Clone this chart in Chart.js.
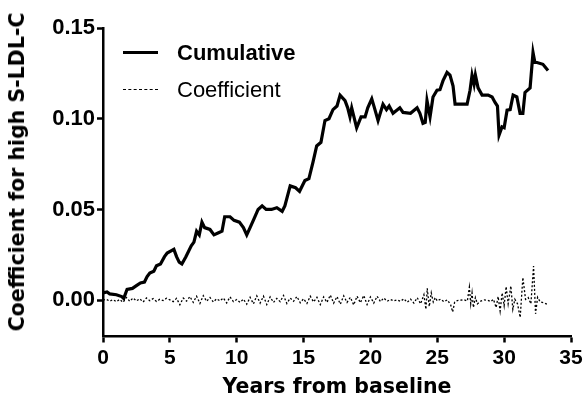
<!DOCTYPE html>
<html>
<head>
<meta charset="utf-8">
<script src="https://cdn.jsdelivr.net/npm/chart.js@4/dist/chart.umd.min.js"></script>
<style>
  body { margin: 0; background: #fff; }
  #wrap { position: relative; width: 586px; height: 411px; }
  #legend { position: absolute; left: 123px; top: 34px; font-family: "Liberation Sans", Arial, sans-serif; font-size: 22px; color: #000; }
  #legend .row { display: flex; align-items: center; height: 37px; }
  #legend .swatch { width: 35px; margin-right: 19px; }
  #legend .solid { border-top: 3px solid #000; }
  #legend .dots { border-top: 1.3px dashed #000; }
  #ytitle { position: absolute; left: 17px; top: 172px; transform: translate(-50%, -50%) rotate(-90deg); white-space: nowrap;
    font-family: "DejaVu Sans", sans-serif; font-weight: bold; font-size: 20.5px; color: #000; }
</style>
</head>
<body>
<div id="wrap">
  <canvas id="chart" width="586" height="411"></canvas>
  <div id="legend">
    <div class="row"><div class="swatch solid"></div><b>Cumulative</b></div>
    <div class="row"><div class="swatch dots"></div><span>Coefficient</span></div>
  </div>
  <div id="ytitle">Coefficient for high S-LDL-C</div>
</div>
<script>
/* ======================
   DATA
====================== */
const xTicks = [0, 5, 10, 15, 20, 25, 30, 35]
const yTicks = [0, 0.05, 0.10, 0.15]

// cumulative coefficient: [years, value]
const cumulative = [
  [0, 0.004], [0.3, 0.0045], [0.5, 0.0035], [1.0, 0.003], [1.4, 0.002], [1.55, 0.001],
  [1.7, 0.004], [1.8, 0.006], [2.2, 0.0065], [2.5, 0.008], [2.8, 0.0095], [3.1, 0.010],
  [3.3, 0.013], [3.5, 0.015], [3.8, 0.016], [4.0, 0.019], [4.3, 0.020], [4.6, 0.024],
  [4.8, 0.026], [5.3, 0.028], [5.5, 0.024], [5.7, 0.021], [5.9, 0.020], [6.2, 0.024],
  [6.6, 0.030], [6.8, 0.032], [7.0, 0.038], [7.2, 0.036], [7.4, 0.043], [7.6, 0.040],
  [8.0, 0.039], [8.3, 0.036], [8.6, 0.037], [8.9, 0.038], [9.1, 0.046], [9.5, 0.046],
  [9.8, 0.044], [10.2, 0.043], [10.5, 0.040], [10.75, 0.036], [11.0, 0.040], [11.3, 0.045],
  [11.6, 0.050], [11.9, 0.052], [12.2, 0.050], [12.6, 0.050], [13.0, 0.051], [13.4, 0.049],
  [13.6, 0.052], [14.0, 0.063], [14.4, 0.062], [14.7, 0.060], [15.1, 0.066], [15.4, 0.067],
  [15.7, 0.076], [15.98, 0.085], [16.3, 0.087], [16.6, 0.099], [16.9, 0.100], [17.2, 0.105],
  [17.5, 0.107], [17.73, 0.113], [18.1, 0.110], [18.3, 0.106], [18.47, 0.101], [18.6, 0.106],
  [18.97, 0.095], [19.3, 0.101], [19.6, 0.101], [19.8, 0.106], [20.1, 0.111], [20.3, 0.106],
  [20.57, 0.099], [20.94, 0.108], [21.2, 0.105], [21.4, 0.107], [21.69, 0.103], [22.2, 0.106],
  [22.44, 0.1035], [23.0, 0.103], [23.49, 0.106], [23.7, 0.103], [23.93, 0.0975], [24.1, 0.098],
  [24.23, 0.110], [24.46, 0.101], [24.68, 0.112], [24.98, 0.1157], [25.2, 0.116], [25.43, 0.121],
  [25.73, 0.1255], [25.95, 0.124], [26.18, 0.118], [26.33, 0.108], [26.8, 0.108], [27.23, 0.108],
  [27.45, 0.1157], [27.6, 0.124], [27.75, 0.119], [27.85, 0.124], [28.05, 0.117], [28.35, 0.113],
  [28.8, 0.113], [29.1, 0.112], [29.32, 0.109], [29.5, 0.107], [29.62, 0.091], [29.84, 0.0955],
  [30.0, 0.095], [30.22, 0.1047], [30.45, 0.105], [30.67, 0.113], [30.95, 0.112], [31.19, 0.103],
  [31.4, 0.103], [31.56, 0.1145], [31.94, 0.117], [32.16, 0.1365], [32.3, 0.131], [32.46, 0.131],
  [32.9, 0.130], [33.28, 0.1266]
]

// yearly coefficient: [years, value]
const coefficient = [
  [0, 0], [0.25, 0.0005], [0.5, -0.0005], [0.75, 0.0003], [1, -0.0008], [1.25, 0.0004],
  [1.5, -0.0012], [1.75, 0.0015], [2, -0.0006], [2.25, 0.0012], [2.5, -0.0004], [2.75, 0.0008],
  [3, -0.001], [3.25, 0.0012], [3.5, -0.0003], [3.75, 0.0009], [4, -0.0007], [4.25, 0.0005],
  [4.5, -0.0002], [4.75, 0.0011], [5, 0.0002], [5.25, -0.0008], [5.5, 0.001], [5.75, -0.0025],
  [6, 0.0012], [6.25, -0.0005], [6.5, 0.002], [6.75, -0.0012], [7, 0.0022], [7.25, -0.0018],
  [7.5, 0.0025], [7.75, -0.0006], [8, 0.0015], [8.25, -0.001], [8.5, 0.0008], [8.75, -0.0004],
  [9, 0.0012], [9.25, -0.0015], [9.5, 0.0018], [9.75, -0.0008], [10, 0.0004], [10.25, -0.0012],
  [10.5, 0.0006], [10.75, -0.0022], [11, 0.0016], [11.25, -0.002], [11.5, 0.0024], [11.75, -0.0016],
  [12, 0.0022], [12.25, -0.0024], [12.5, 0.0018], [12.75, -0.0012], [13, 0.001], [13.25, -0.0008],
  [13.5, 0.0026], [13.75, -0.0018], [14, 0.0012], [14.25, -0.0006], [14.5, 0.002], [14.75, -0.0014],
  [15, 0.0008], [15.25, -0.0018], [15.5, 0.0022], [15.75, -0.001], [16, 0.0016], [16.25, -0.0024],
  [16.5, 0.0018], [16.75, -0.0012], [17, 0.0028], [17.25, -0.0016], [17.5, 0.002], [17.75, -0.0022],
  [18, 0.0024], [18.25, -0.0012], [18.5, 0.0016], [18.75, -0.0026], [19, 0.0022], [19.25, -0.0014],
  [19.5, 0.0026], [19.75, -0.0024], [20, 0.0018], [20.25, -0.0016], [20.5, 0.0022], [20.75, -0.0008],
  [21, 0.0012], [21.25, -0.0006], [21.5, 0.0004], [21.75, -0.0004], [22, 0.0002], [22.25, -0.0006],
  [22.5, 0.0008], [22.75, -0.0012], [23, 0.0006], [23.25, -0.0016], [23.5, 0.0014], [23.75, -0.002],
  [24, 0.003], [24.15, -0.005], [24.25, 0.0065], [24.4, -0.0035], [24.55, 0.004], [24.7, -0.001],
  [24.85, 0.0015], [25, -0.0004], [25.25, 0.0006], [25.5, -0.0008], [25.75, 0.0002], [26, -0.0025],
  [26.15, -0.0065], [26.3, -0.001], [26.5, -0.0002], [26.75, 0], [27, 0.0002], [27.25, -0.0004],
  [27.4, 0.0072], [27.5, -0.002], [27.6, 0.004], [27.7, -0.004], [27.85, 0.0015], [28, -0.002],
  [28.25, -0.0005], [28.5, 0.0002], [28.75, 0], [29, -0.0008], [29.2, 0.0005], [29.4, -0.004],
  [29.55, 0.002], [29.7, -0.006], [29.85, 0.004], [30, -0.003], [30.15, 0.0075], [30.3, -0.002],
  [30.5, 0.0078], [30.65, -0.005], [30.8, 0.0005], [31, -0.002], [31.2, -0.0095], [31.4, 0.0125],
  [31.6, 0.0005], [31.8, 0.0015], [32, -0.002], [32.2, 0.0188], [32.35, -0.0075], [32.5, 0.0016],
  [32.7, -0.001], [33, -0.0015], [33.3, -0.0025]
]

/* ======================
   CHART
====================== */
const toPts = (arr) => arr.map(([x, y]) => ({ x, y }))
const tickFont = { family: "'Liberation Sans', Arial, sans-serif", size: 21, weight: "bold" }

new Chart(document.getElementById("chart"), {
  type: "line",
  data: {
    datasets: [
      {
        label: "Cumulative",
        data: toPts(cumulative),
        borderColor: "#000",
        borderWidth: 3.2,
        pointRadius: 0,
        tension: 0
      },
      {
        label: "Coefficient",
        data: toPts(coefficient),
        borderColor: "#000",
        borderWidth: 1.3,
        borderDash: [2, 2],
        pointRadius: 0,
        tension: 0
      }
    ]
  },
  options: {
    responsive: false,
    animation: false,
    layout: { padding: { top: 28, right: 15, left: 0, bottom: 0 } },
    plugins: { legend: { display: false }, tooltip: { enabled: false } },
    scales: {
      x: {
        type: "linear",
        min: 0,
        max: 35,
        afterBuildTicks: (s) => { s.ticks = xTicks.map(v => ({ value: v })) },
        afterFit: (s) => { s.height = 74.5 },
        border: { display: true, color: "#000", width: 2.5 },
        grid: { drawOnChartArea: false, drawTicks: true, tickLength: 6, tickWidth: 2.5, tickColor: "#000" },
        ticks: { color: "#000", font: tickFont, padding: 3, maxRotation: 0 },
        title: {
          display: true,
          text: "Years from baseline",
          color: "#000",
          font: { family: "'DejaVu Sans', sans-serif", size: 20.5, weight: "bold" },
          padding: { top: 0, bottom: 11 }
        }
      },
      y: {
        type: "linear",
        min: -0.02,
        max: 0.15,
        afterBuildTicks: (s) => { s.ticks = yTicks.map(v => ({ value: v })) },
        afterFit: (s) => { s.width = 103 },
        border: { display: true, color: "#000", width: 2.5 },
        grid: { drawOnChartArea: false, drawTicks: true, tickLength: 6, tickWidth: 2.5, tickColor: "#000" },
        ticks: { color: "#000", font: { ...tickFont, size: 22 }, padding: 2, callback: (v) => v.toFixed(2) }
      }
    }
  }
})
</script>
</body>
</html>
